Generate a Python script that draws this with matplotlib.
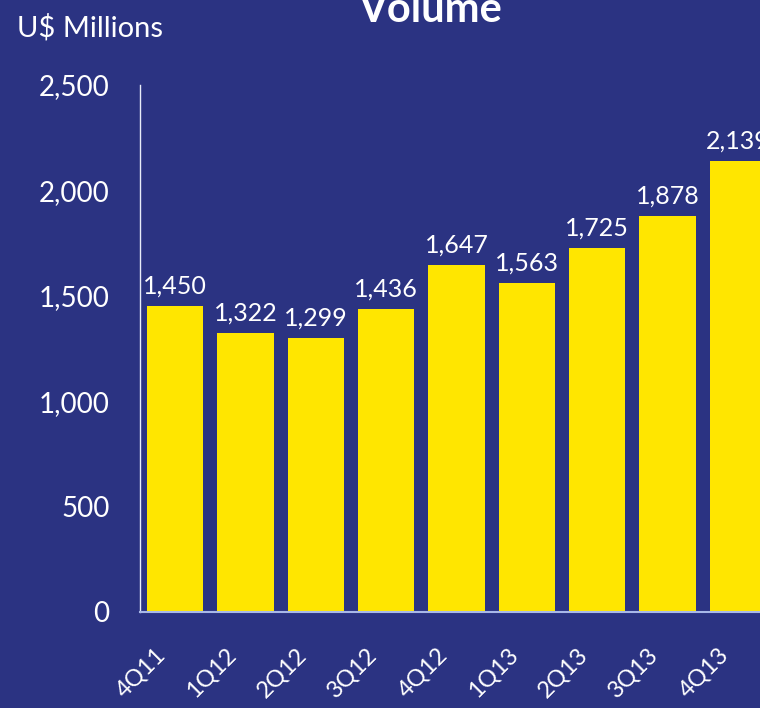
import matplotlib
matplotlib.use("Agg")
import matplotlib.pyplot as plt
from matplotlib.ticker import FuncFormatter
from matplotlib.transforms import ScaledTranslation

categories = ["4Q11", "1Q12", "2Q12", "3Q12", "4Q12", "1Q13", "2Q13", "3Q13", "4Q13"]
volume = [1450, 1322, 1299, 1436, 1647, 1563, 1725, 1878, 2139]
yticks = [0, 500, 1000, 1500, 2000, 2500]

BG = "#2B3382"
BAR = "#FFE600"
FONT = ["Lato", "DejaVu Sans"]

plt.rcParams['font.family'] = FONT

fig = plt.figure(figsize=(7.6, 7.08), dpi=100, facecolor=BG)
ax = fig.add_axes([140/760, 96/708, 633/760, 527/708])
ax.set_facecolor(BG)

x = list(range(len(categories)))
bars = ax.bar(x, volume, width=0.8, color=BAR, zorder=2)
for xi, v in zip(x, volume):
    ax.annotate(f"{v:,}", (xi, v), xytext=(0, 6), textcoords="offset points",
                ha="center", va="bottom", color="white", fontsize=18)

ax.set_xlim(-0.5, len(categories) - 0.5)
ax.set_ylim(0, 2500)
ax.set_yticks(yticks)
ax.yaxis.set_major_formatter(FuncFormatter(lambda v, p: f"{int(v):,}"))
ax.set_xticks(x)
ax.set_xticklabels(categories, rotation=45, ha="right", va="top",
                   rotation_mode="anchor", color="white", fontsize=17)
ax.tick_params(axis="y", length=0, pad=22, labelsize=20, labelcolor="white")
ax.tick_params(axis="x", length=0, pad=23)
off = ScaledTranslation(-20/100, 0, fig.dpi_scale_trans)
for lbl in ax.get_xticklabels():
    lbl.set_transform(lbl.get_transform() + off)

for s in ["top", "right"]:
    ax.spines[s].set_visible(False)
ax.spines["left"].set_color("#E8ECF8")
ax.spines["left"].set_linewidth(1)
ax.spines["bottom"].set_color("#A8B8E8")
ax.spines["bottom"].set_linewidth(1.5)

fig.text(17/760, 1 - 28/708, "U$ Millions", color="white", fontsize=21,
         ha="left", va="center")
fig.text(430/760, 1 - 22/708, "Volume", color="white", fontsize=30,
         fontweight="bold", ha="center", va="baseline")

fig.savefig("out.png", dpi=100, facecolor=BG)
